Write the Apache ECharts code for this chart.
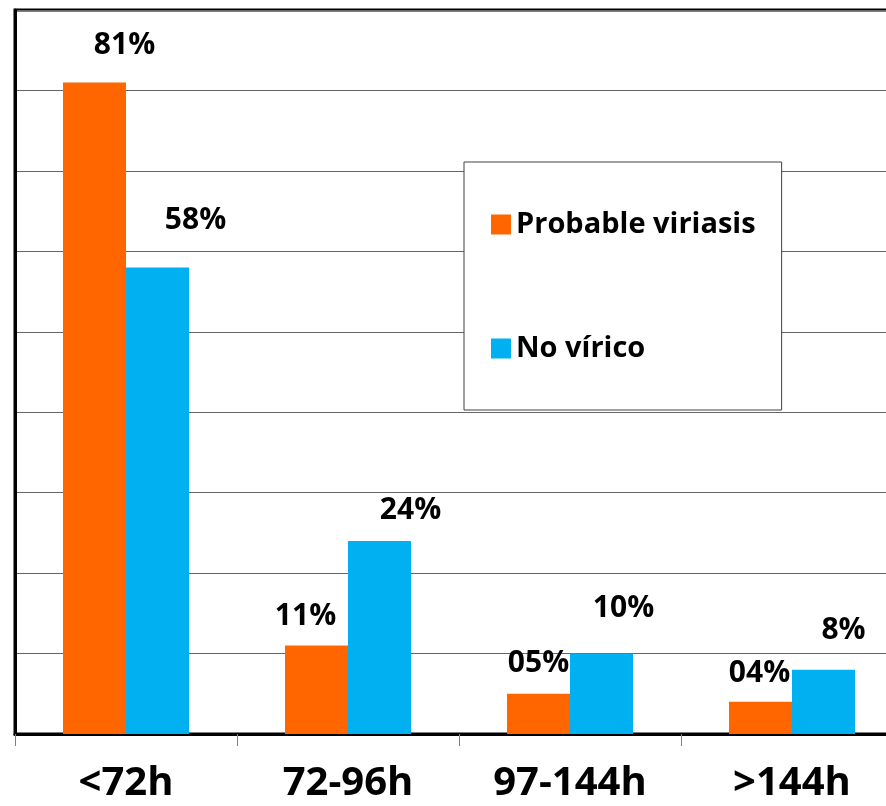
<!DOCTYPE html>
<html>
<head>
<meta charset="utf-8">
<script src="https://cdn.jsdelivr.net/npm/echarts@6/dist/echarts.min.js"></script>
<style>
  html, body { margin: 0; padding: 0; background: #fff; }
  #main { width: 886px; height: 806px; }
</style>
</head>
<body>
<div id="main"></div>
<script>
var categories = ['<72h', '72-96h', '97-144h', '>144h'];
var viriasis = [81, 11, 5, 4];
var noVirico = [58, 24, 10, 8];
var viriasisLabels = ['81%', '11%', '05%', '04%'];
var noViricoLabels = ['58%', '24%', '10%', '8%'];
// label nudges, to sit the numbers where the original has them
var viriasisShift = [[30, -17], [-11, -9], [0, -10], [-1, -8]];
var noViricoShift = [[38, -27], [31, -10], [22, -25], [20, -19]];

function buildData(vals, labels, shift) {
	var out = [];
	for (var i = 0; i < vals.length; i++) {
		out.push({
			value: vals[i],
			label: { formatter: labels[i], offset: shift[i] }
		});
	}
	return out;
}

var labelStyle = {
	show: true,
	position: 'top',
	fontFamily: 'Open Sans',
	fontWeight: 'bold',
	fontSize: 30,
	color: '#000'
};

var myChart = echarts.init(document.getElementById('main'));
var option = {
	backgroundColor: '#fff',
	animation: false,
	grid: {
		left: 15, width: 888, top: 10, bottom: 72,
		outerBoundsMode: 'none',
		containLabel: false,
		show: true, borderColor: '#000', borderWidth: 3
	},
	legend: {
		orient: 'vertical',
		left: 464, top: 162,
		backgroundColor: '#fff',
		borderColor: '#404040',
		borderWidth: 1,
		padding: [48, 26, 47, 27],
		itemGap: 95,
		itemWidth: 20, itemHeight: 20,
		icon: 'rect',
		textStyle: { fontFamily: 'Open Sans', fontWeight: 'bold', fontSize: 29, color: '#000' },
		data: ['Probable viriasis', 'No vírico']
	},
	xAxis: {
		type: 'category',
		data: categories,
		axisLine: { lineStyle: { color: '#000', width: 3 } },
		axisTick: { show: true, length: 12, lineStyle: { color: '#808080', width: 1 } },
		axisLabel: { margin: 30, fontFamily: 'Open Sans', fontWeight: 'bold', fontSize: 40, color: '#000' }
	},
	yAxis: {
		type: 'value',
		min: 0, max: 90, interval: 10,
		axisLabel: { show: false },
		axisLine: { show: true, lineStyle: { color: '#000', width: 3 } },
		axisTick: { show: false },
		splitLine: { lineStyle: { color: '#666', width: 1 } }
	},
	series: [
		{
			name: 'Probable viriasis',
			type: 'bar',
			barWidth: 63,
			barGap: '0%',
			itemStyle: { color: '#FF6600' },
			label: labelStyle,
			data: buildData(viriasis, viriasisLabels, viriasisShift)
		},
		{
			name: 'No vírico',
			type: 'bar',
			barWidth: 63,
			itemStyle: { color: '#00B0F0' },
			label: labelStyle,
			data: buildData(noVirico, noViricoLabels, noViricoShift)
		}
	]
};
myChart.setOption(option);
</script>
</body>
</html>
